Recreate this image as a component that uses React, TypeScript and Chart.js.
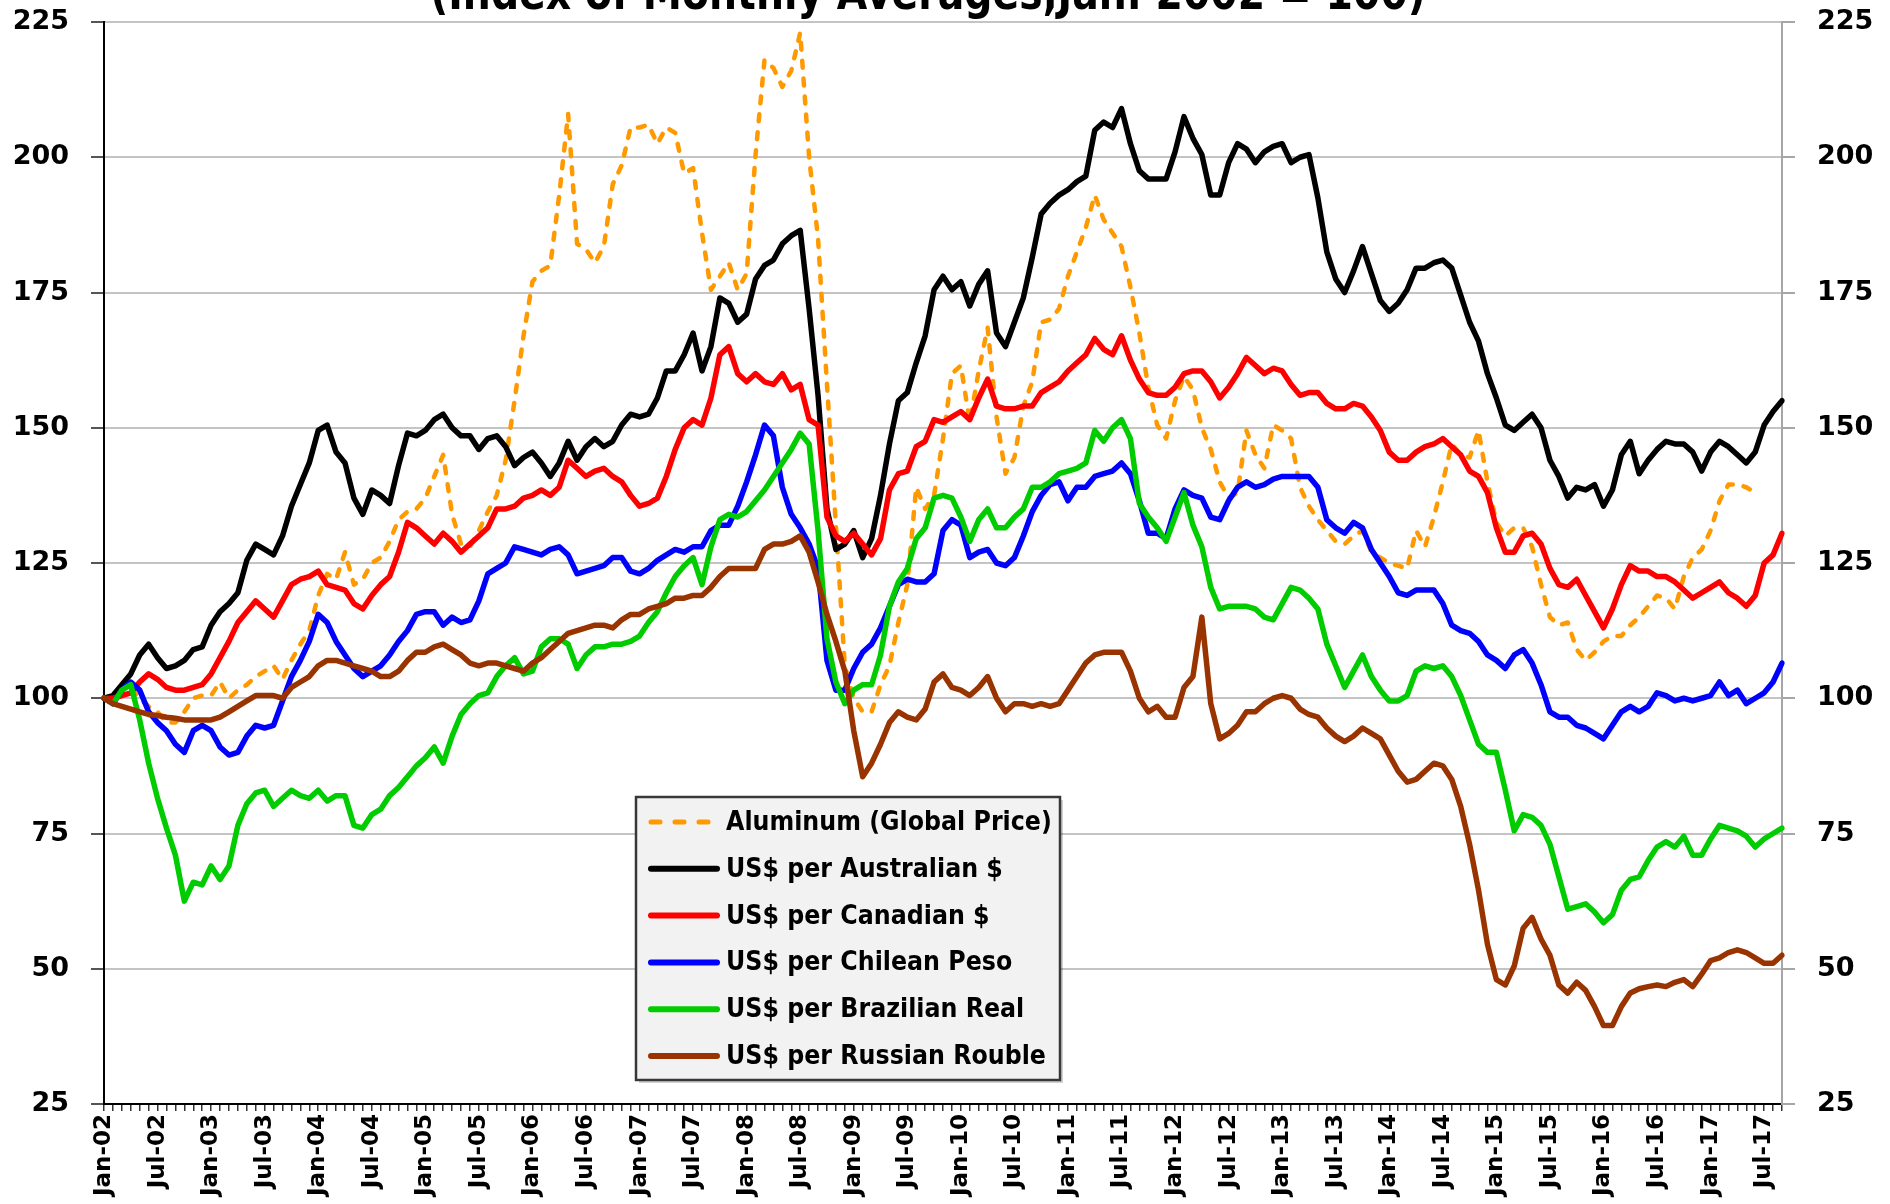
import React, { useEffect, useRef } from 'react';
import { Chart, registerables } from 'chart.js';

Chart.register(...registerables);

const MONTH_NAMES = ['Jan', 'Feb', 'Mar', 'Apr', 'May', 'Jun', 'Jul', 'Aug', 'Sep', 'Oct', 'Nov', 'Dec'];
const YEAR_SUFFIXES = ['02', '03', '04', '05', '06', '07', '08', '09', '10', '11', '12', '13', '14', '15', '16', '17'];
const MONTH_COUNT = 189; // Jan-02 .. Sep-17
const categories: string[] = YEAR_SUFFIXES.flatMap((y) => MONTH_NAMES.map((m) => `${m}-${y}`)).slice(0, MONTH_COUNT);

const TITLE_TEXT = '(Index of Monthly Averages,Jan. 2002 = 100)';
const Y_TICKS = [25, 50, 75, 100, 125, 150, 175, 200, 225];
const X_LABEL_EVERY = 6;

const seriesNames = [
  'Aluminum (Global Price)',
  'US$ per Australian $',
  'US$ per Canadian $',
  'US$ per Chilean Peso',
  'US$ per Brazilian Real',
  'US$ per Russian Rouble',
];

const aluminum = [
  100, 100, 102.5, 102, 100, 98.5, 97.5, 95.5, 95.5, 97.5, 100, 100.5,
  100.5, 103, 100, 101.5, 102.5, 104, 105, 106, 103.5, 107, 110, 112.5,
  119, 123, 122, 127, 121, 122, 125, 126, 129, 133, 134.5, 135,
  137, 141, 145, 134, 128.5, 128, 131, 134.5, 137.5, 144, 155, 167,
  177, 179, 180, 193, 208, 184, 183, 180.5, 183.5, 195, 198.5, 205.5,
  205.5, 206, 202.5, 205.5, 204.5, 197, 198, 186, 175.5, 178, 180.5, 175.5,
  178.5, 200.5, 218, 216.5, 213, 216, 223, 200, 185, 158, 132, 106,
  100, 97.5, 97.5, 102.5, 106, 114, 121, 139, 135, 137.5, 148, 160,
  161.5, 151, 160.5, 168.5, 152, 141.5, 144.5, 154, 158.5, 169.5, 170, 172,
  178, 182.5, 187, 193, 188.5, 186, 183.5, 176, 167.5, 157.5, 150.5, 148,
  155, 159.5, 157, 150, 146, 140, 137, 138, 149.5, 145, 142.5, 150.5,
  149.5, 148, 139, 135.5, 133, 131, 129, 128.5, 130, 131, 127, 126,
  125, 124.5, 124, 131, 128, 133.5, 140, 147, 145, 144.5, 149.5, 140,
  132.5, 130, 131.5, 131.5, 128, 121, 115, 113.5, 114, 109, 107, 108.5,
  110.5, 111.5, 111.5, 113.5, 115, 117, 119, 118.5, 116.5, 122.5, 126, 127.5,
  131, 136.5, 139.5, 139.5, 139, 138, null, null, null,
];

const australianDollar = [
  100, 100.5, 102.5, 104.5, 108, 110, 107.5, 105.5, 106, 107, 109, 109.5,
  113.5, 116, 117.5, 119.5, 125.5, 128.5, 127.5, 126.5, 130, 135.5, 139.5, 143.5,
  149.5, 150.5, 145.5, 143.5, 137, 134, 138.5, 137.5, 136, 143, 149, 148.5,
  149.5, 151.5, 152.5, 150, 148.5, 148.5, 146, 148, 148.5, 146.5, 143, 144.5,
  145.5, 143.5, 141, 143.5, 147.5, 144, 146.5, 148, 146.5, 147.5, 150.5, 152.5,
  152, 152.5, 155.5, 160.5, 160.5, 163.5, 167.5, 160.5, 165, 174, 173, 169.5,
  171, 177.5, 180, 181, 184, 185.5, 186.5, 172, 156, 135, 127.5, 128.5,
  131, 126, 129.5, 137.5, 147, 155, 156.5, 162, 167, 175.5, 178, 175.5,
  177, 172.5, 176.5, 179, 167.5, 165, 169.5, 174, 181.5, 189.5, 191.5, 193,
  194, 195.5, 196.5, 205, 206.5, 205.5, 209, 202.5, 197.5, 196, 196, 196,
  201, 207.5, 203.5, 200.5, 193, 193, 199, 202.5, 201.5, 199, 201, 202,
  202.5, 199, 200, 200.5, 192.5, 182.5, 177.5, 175, 179, 183.5, 178.5, 173.5,
  171.5, 173, 175.5, 179.5, 179.5, 180.5, 181, 179.5, 174.5, 169.5, 166, 160,
  155.5, 150.5, 149.5, 151, 152.5, 150, 144, 141, 137, 139, 138.5, 139.5,
  135.5, 138.5, 145, 147.5, 141.5, 144, 146, 147.5, 147, 147, 145.5, 142,
  145.5, 147.5, 146.5, 145, 143.5, 145.5, 150.5, 153, 155,
];

const canadianDollar = [
  100, 100, 100.5, 101, 103, 104.5, 103.5, 102, 101.5, 101.5, 102, 102.5,
  104.5, 107.5, 110.5, 114, 116, 118, 116.5, 115, 118, 121, 122, 122.5,
  123.5, 121, 120.5, 120, 117.5, 116.5, 119, 121, 122.5, 127, 132.5, 131.5,
  130, 128.5, 130.5, 129, 127, 128.5, 130, 131.5, 135, 135, 135.5, 137,
  137.5, 138.5, 137.5, 139, 144, 142.5, 141, 142, 142.5, 141, 140, 137.5,
  135.5, 136, 137, 141, 146, 150, 151.5, 150.5, 155.5, 163.5, 165, 160,
  158.5, 160, 158.5, 158, 160, 157, 158, 151.5, 150.5, 133.5, 130, 129,
  130.5, 128.5, 126.5, 129.5, 138.5, 141.5, 142, 146.5, 147.5, 151.5, 151, 152,
  153, 151.5, 155.5, 159, 154, 153.5, 153.5, 154, 154, 156.5, 157.5, 158.5,
  160.5, 162, 163.5, 166.5, 164.5, 163.5, 167, 162.5, 159, 156.5, 156, 156,
  157.5, 160, 160.5, 160.5, 158.5, 155.5, 157.5, 160, 163, 161.5, 160, 161,
  160.5, 158, 156, 156.5, 156.5, 154.5, 153.5, 153.5, 154.5, 154, 152, 149.5,
  145.5, 144, 144, 145.5, 146.5, 147, 148, 146.5, 145, 142, 141, 138,
  131.5, 127, 127, 130, 130.5, 128.5, 124, 121, 120.5, 122, 119, 116,
  113, 116.5, 121, 124.5, 123.5, 123.5, 122.5, 122.5, 121.5, 120, 118.5, 119.5,
  120.5, 121.5, 119.5, 118.5, 117, 119, 125, 126.5, 130.5,
];

const chileanPeso = [
  100, 99, 101.5, 103, 101.5, 97.5, 95.5, 94, 91.5, 90, 94, 95,
  94, 91, 89.5, 90, 93, 95, 94.5, 95, 99.5, 104, 107, 110.5,
  115.5, 114, 110.5, 108, 105.5, 104, 105, 106, 108, 110.5, 112.5, 115.5,
  116, 116, 113.5, 115, 114, 114.5, 118, 123, 124, 125, 128, 127.5,
  127, 126.5, 127.5, 128, 126.5, 123, 123.5, 124, 124.5, 126, 126, 123.5,
  123, 124, 125.5, 126.5, 127.5, 127, 128, 128, 131, 132, 132, 135.5,
  140, 145, 150.5, 148.5, 139, 134, 131.5, 128.5, 124, 107, 101.5, 101.5,
  105.5, 108.5, 110, 113, 117, 121, 122, 121.5, 121.5, 123, 131, 133,
  132, 126, 127, 127.5, 125, 124.5, 126, 130, 134.5, 137.5, 139.5, 140,
  136.5, 139, 139, 141, 141.5, 142, 143.5, 141.5, 136.5, 130.5, 130.5, 129.5,
  135, 138.5, 137.5, 137, 133.5, 133, 136.5, 139, 140, 139, 139.5, 140.5,
  141, 141, 141, 141, 139, 133, 131.5, 130.5, 132.5, 131.5, 127.5, 125,
  122.5, 119.5, 119, 120, 120, 120, 117.5, 113.5, 112.5, 112, 110.5, 108,
  107, 105.5, 108, 109, 106.5, 102.5, 97.5, 96.5, 96.5, 95, 94.5, 93.5,
  92.5, 95, 97.5, 98.5, 97.5, 98.5, 101, 100.5, 99.5, 100, 99.5, 100,
  100.5, 103, 100.5, 101.5, 99, 100, 101, 103, 106.5,
];

const brazilianReal = [
  100, 99, 101.5, 102.5, 96, 88, 81.5, 76, 71, 62.5, 66, 65.5,
  69, 66.5, 69, 76.5, 80.5, 82.5, 83, 80, 81.5, 83, 82, 81.5,
  83, 81, 82, 82, 76.5, 76, 78.5, 79.5, 82, 83.5, 85.5, 87.5,
  89, 91, 88, 93, 97, 99, 100.5, 101, 104, 106, 107.5, 104.5,
  105, 109.5, 111, 111, 110, 105.5, 108, 109.5, 109.5, 110, 110, 110.5,
  111.5, 114, 116, 119.5, 122.5, 124.5, 126, 121, 128, 133, 134, 133.5,
  134.5, 136.5, 138.5, 141, 143.5, 146, 149, 147, 131, 111, 103, 99,
  101.5, 102.5, 102.5, 108, 117, 121.5, 124, 129.5, 131.5, 137, 137.5, 137,
  133.5, 129, 133, 135, 131.5, 131.5, 133.5, 135, 139, 139, 140, 141.5,
  142, 142.5, 143.5, 149.5, 147.5, 150, 151.5, 148, 136, 133.5, 131.5, 129,
  133.5, 138, 132, 128, 120.5, 116.5, 117, 117, 117, 116.5, 115, 114.5,
  117.5, 120.5, 120, 118.5, 116.5, 110, 106, 102, 105, 108, 104, 101.5,
  99.5, 99.5, 100.5, 105, 106, 105.5, 106, 104, 100.5, 96, 91.5, 90,
  90, 83, 75.5, 78.5, 78, 76.5, 73, 67, 61, 61.5, 62, 60.5,
  58.5, 60, 64.5, 66.5, 67, 70, 72.5, 73.5, 72.5, 74.5, 71, 71,
  74, 76.5, 76, 75.5, 74.5, 72.5, 74, 75, 76,
];

const russianRouble = [
  100, 99, 98.5, 98, 97.5, 97, 96.8, 96.5, 96.3, 96, 96, 96,
  96, 96.5, 97.5, 98.5, 99.5, 100.5, 100.5, 100.5, 100, 102, 103, 104,
  106, 107, 107, 106.5, 106, 105.5, 105, 104, 104, 105, 107, 108.5,
  108.5, 109.5, 110, 109, 108, 106.5, 106, 106.5, 106.5, 106, 105.5, 105,
  106.5, 107.5, 109, 110.5, 112, 112.5, 113, 113.5, 113.5, 113, 114.5, 115.5,
  115.5, 116.5, 117, 117.5, 118.5, 118.5, 119, 119, 120.5, 122.5, 124, 124,
  124, 124, 127.5, 128.5, 128.5, 129, 130, 127, 121.5, 115.5, 110.5, 105,
  94, 85.5, 88, 91.5, 95.5, 97.5, 96.5, 96, 98, 103, 104.5, 102,
  101.5, 100.5, 102, 104, 100, 97.5, 99, 99, 98.5, 99, 98.5, 99,
  101.5, 104, 106.5, 108, 108.5, 108.5, 108.5, 105, 100, 97.5, 98.5, 96.5,
  96.5, 102, 104, 115, 99, 92.5, 93.5, 95, 97.5, 97.5, 99, 100,
  100.5, 100, 98, 97, 96.5, 94.5, 93, 92, 93, 94.5, 93.5, 92.5,
  89.5, 86.5, 84.5, 85, 86.5, 88, 87.5, 85, 80, 73, 64.5, 54.5,
  48, 47, 50.5, 57.5, 59.5, 55.5, 52.5, 47, 45.5, 47.5, 46, 43,
  39.5, 39.5, 43, 45.5, 46.3, 46.7, 47, 46.7, 47.5, 48, 46.7, 49,
  51.5, 52, 53, 53.5, 53, 52, 51, 51, 52.5,
];

const seriesValues = [aluminum, australianDollar, canadianDollar, chileanPeso, brazilianReal, russianRouble];
const seriesColors = ['#FF9900', '#000000', '#FF0000', '#0000FF', '#00CC00', '#993300'];

const FONT_FAMILY = '"DejaVu Sans", "Liberation Sans", sans-serif';

// Draw text whose total width equals targetWidth, with glyphs taller by `stretch`.
function drawFittedText(
  ctx: CanvasRenderingContext2D,
  text: string,
  x: number,
  y: number,
  targetWidth: number,
  stretch: number,
  align: 'left' | 'center',
) {
  ctx.font = `bold 100px ${FONT_FAMILY}`;
  const w100 = ctx.measureText(text).width;
  const baseSize = (100 * targetWidth) / w100;
  const size = baseSize * stretch;
  ctx.save();
  ctx.translate(x, y);
  ctx.scale(1 / stretch, 1);
  ctx.font = `bold ${size}px ${FONT_FAMILY}`;
  ctx.textAlign = align;
  ctx.fillText(text, 0, 0);
  ctx.restore();
  return size;
}

const titleAndLegendPlugin = {
  id: 'titleAndLegend',
  afterDraw(chart: any) {
    const ctx: CanvasRenderingContext2D = chart.ctx;
    ctx.save();

    // Title (clipped at the top edge, as in the reference)
    ctx.fillStyle = '#000';
    ctx.textBaseline = 'alphabetic';
    drawFittedText(ctx, TITLE_TEXT, 928, 9, 996, 1.22, 'center');

    // Legend box
    const bx = 636, by = 797, bw = 424, bh = 283;
    ctx.fillStyle = 'rgba(0,0,0,0.18)';
    ctx.fillRect(bx + 3, by + 3, bw, bh);
    ctx.fillStyle = '#F2F2F2';
    ctx.fillRect(bx, by, bw, bh);
    ctx.strokeStyle = '#383838';
    ctx.lineWidth = 2.5;
    ctx.strokeRect(bx, by, bw, bh);

    ctx.font = `bold 100px ${FONT_FAMILY}`;
    const firstW = ctx.measureText(seriesNames[0]).width;
    const rowGap = 46.8;
    seriesNames.forEach((name, i) => {
      const cy = by + 25 + i * rowGap;
      ctx.beginPath();
      ctx.strokeStyle = seriesColors[i];
      ctx.lineCap = 'round';
      ctx.lineWidth = 6;
      if (i === 0) {
        ctx.setLineDash([9, 15]);
        ctx.lineWidth = 5;
      } else {
        ctx.setLineDash([]);
      }
      ctx.moveTo(651, cy);
      ctx.lineTo(717, cy);
      ctx.stroke();
      ctx.setLineDash([]);
      ctx.fillStyle = '#000';
      ctx.textBaseline = 'middle';
      ctx.font = `bold 100px ${FONT_FAMILY}`;
      const w = ctx.measureText(name).width;
      drawFittedText(ctx, name, 726, cy + 1, (326 * w) / firstW, 1.12, 'left');
    });

    ctx.restore();
  },
};

export default function App() {
  const canvasRef = useRef<HTMLCanvasElement | null>(null);

  useEffect(() => {
    const canvas = canvasRef.current;
    if (!canvas) return;

    const datasets = seriesNames.map((name, i) => ({
      label: name,
      data: seriesValues[i],
      borderColor: seriesColors[i],
      backgroundColor: seriesColors[i],
      borderWidth: i === 0 ? 4.5 : 5.5,
      borderDash: i === 0 ? [7, 11] : [],
      borderCapStyle: 'round' as const,
      borderJoinStyle: 'round' as const,
      pointRadius: 0,
      pointHoverRadius: 0,
      fill: false,
      tension: 0,
      spanGaps: false,
      yAxisID: 'y',
      order: seriesNames.length - i,
    }));

    const tickFont = { family: FONT_FAMILY, size: 27, weight: 'bold' as const };
    const trimPadding = (s: any) => {
      s.paddingTop = 0;
      s.paddingBottom = 0;
    };

    const chart = new Chart(canvas, {
      type: 'line',
      data: { labels: categories, datasets },
      options: {
        animation: false,
        responsive: false,
        events: [],
        layout: { padding: { top: 22, left: 0, right: 0, bottom: 0 } },
        plugins: {
          legend: { display: false },
          title: { display: false },
          tooltip: { enabled: false },
        },
        scales: {
          x: {
            type: 'category',
            offset: false,
            grid: {
              display: true,
              drawOnChartArea: false,
              drawTicks: true,
              tickLength: 7,
              color: '#333333',
              lineWidth: 1.5,
            },
            border: { display: true, color: '#000000', width: 2 },
            ticks: {
              autoSkip: false,
              maxRotation: 90,
              minRotation: 90,
              padding: 3,
              color: '#000',
              font: { family: FONT_FAMILY, size: 23, weight: 'bold' as const },
              callback: (_v: any, idx: number) => (idx % X_LABEL_EVERY === 0 ? categories[idx] : ''),
            },
            afterFit: (s: any) => {
              s.height = 100;
              s.paddingLeft = 0;
              s.paddingRight = 0;
            },
          },
          y: {
            position: 'left',
            min: Y_TICKS[0],
            max: Y_TICKS[Y_TICKS.length - 1],
            grid: {
              color: '#C4C4C4',
              lineWidth: 2,
              tickLength: 13,
              tickColor: '#555555',
            },
            border: { display: true, color: '#000000', width: 2 },
            ticks: {
              stepSize: 25,
              padding: 22,
              color: '#000',
              font: tickFont,
            },
            afterFit: (s: any) => {
              s.width = 104;
              trimPadding(s);
            },
          },
          y1: {
            position: 'right',
            min: Y_TICKS[0],
            max: Y_TICKS[Y_TICKS.length - 1],
            grid: {
              drawOnChartArea: false,
              tickLength: 13,
              color: '#A6A6A6',
              lineWidth: 2,
            },
            border: { display: true, color: '#A6A6A6', width: 2 },
            ticks: {
              stepSize: 25,
              padding: 22,
              color: '#000',
              font: tickFont,
            },
            afterFit: (s: any) => {
              s.width = 108;
              trimPadding(s);
            },
          },
        },
      },
      plugins: [titleAndLegendPlugin],
    });

    return () => {
      chart.destroy();
    };
  }, []);

  return (
    <div style={{ position: 'fixed', left: 0, top: 0, width: 1890, height: 1204, background: '#fff' }}>
      <canvas ref={canvasRef} width={1890} height={1204} style={{ display: 'block' }} />
    </div>
  );
}
